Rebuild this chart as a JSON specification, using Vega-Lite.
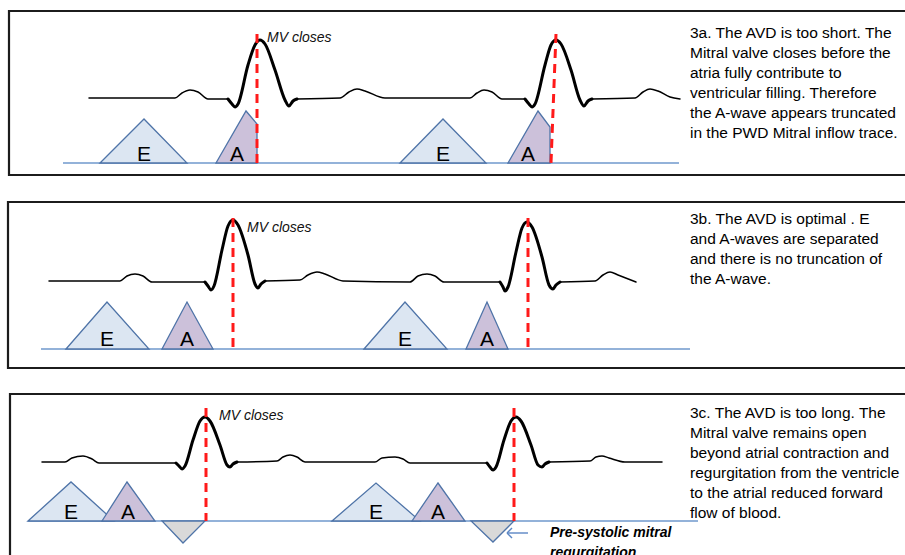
{
  "$schema": "https://vega.github.io/schema/vega-lite/v6.json",
  "width": 905,
  "height": 555,
  "padding": 0,
  "autosize": {"type": "fit", "contains": "padding"},
  "background": "white",
  "config": {"view": {"stroke": null}},
  "datasets": {
    "boxes": [
      {"panel": "3a", "x": 9, "x2": 910, "y": 11, "y2": 175},
      {"panel": "3b", "x": 8, "x2": 910, "y": 202, "y2": 368},
      {"panel": "3c", "x": 10, "x2": 910, "y": 394, "y2": 580}
    ],
    "baselines": [
      {"panel": "3a", "x": 63, "x2": 679, "y": 163},
      {"panel": "3b", "x": 41, "x2": 690, "y": 349},
      {"panel": "3c", "x": 28, "x2": 698, "y": 521}
    ],
    "mv": [
      {"panel": "3a", "x": 257, "x2": 257, "y": 34, "y2": 163},
      {"panel": "3a", "x": 556, "x2": 551, "y": 34, "y2": 163},
      {"panel": "3b", "x": 233, "x2": 233, "y": 218, "y2": 349},
      {"panel": "3b", "x": 528, "x2": 528, "y": 218, "y2": 349},
      {"panel": "3c", "x": 206, "x2": 206, "y": 408, "y2": 521},
      {"panel": "3c", "x": 514, "x2": 514, "y": 408, "y2": 521}
    ],
    "arrow": [
      {"x": 528, "x2": 507, "y": 533, "y2": 533},
      {"x": 507, "x2": 512, "y": 533, "y2": 528},
      {"x": 507, "x2": 512, "y": 533, "y2": 538}
    ],
    "waves": [
      {"id": "3a-E1", "kind": "E", "x": 100, "y": 163, "y2": 163},
      {"id": "3a-E1", "kind": "E", "x": 144, "y": 119, "y2": 163},
      {"id": "3a-E1", "kind": "E", "x": 187, "y": 163, "y2": 163},
      {"id": "3a-A1", "kind": "A", "x": 216, "y": 163, "y2": 163},
      {"id": "3a-A1", "kind": "A", "x": 246, "y": 111, "y2": 163},
      {"id": "3a-A1", "kind": "A", "x": 257, "y": 124, "y2": 163},
      {"id": "3a-E2", "kind": "E", "x": 400, "y": 163, "y2": 163},
      {"id": "3a-E2", "kind": "E", "x": 443, "y": 119, "y2": 163},
      {"id": "3a-E2", "kind": "E", "x": 486, "y": 163, "y2": 163},
      {"id": "3a-A2", "kind": "A", "x": 508, "y": 163, "y2": 163},
      {"id": "3a-A2", "kind": "A", "x": 538, "y": 111, "y2": 163},
      {"id": "3a-A2", "kind": "A", "x": 550, "y": 127, "y2": 163},
      {"id": "3b-E1", "kind": "E", "x": 66, "y": 349, "y2": 349},
      {"id": "3b-E1", "kind": "E", "x": 107, "y": 302, "y2": 349},
      {"id": "3b-E1", "kind": "E", "x": 149, "y": 349, "y2": 349},
      {"id": "3b-A1", "kind": "A", "x": 162, "y": 349, "y2": 349},
      {"id": "3b-A1", "kind": "A", "x": 187, "y": 302, "y2": 349},
      {"id": "3b-A1", "kind": "A", "x": 213, "y": 349, "y2": 349},
      {"id": "3b-E2", "kind": "E", "x": 364, "y": 349, "y2": 349},
      {"id": "3b-E2", "kind": "E", "x": 405, "y": 302, "y2": 349},
      {"id": "3b-E2", "kind": "E", "x": 447, "y": 349, "y2": 349},
      {"id": "3b-A2", "kind": "A", "x": 466, "y": 349, "y2": 349},
      {"id": "3b-A2", "kind": "A", "x": 487, "y": 302, "y2": 349},
      {"id": "3b-A2", "kind": "A", "x": 508, "y": 349, "y2": 349},
      {"id": "3c-E1", "kind": "E", "x": 28, "y": 521, "y2": 521},
      {"id": "3c-E1", "kind": "E", "x": 71, "y": 482, "y2": 521},
      {"id": "3c-E1", "kind": "E", "x": 114, "y": 521, "y2": 521},
      {"id": "3c-A1", "kind": "A", "x": 102, "y": 521, "y2": 521},
      {"id": "3c-A1", "kind": "A", "x": 127, "y": 482, "y2": 521},
      {"id": "3c-A1", "kind": "A", "x": 155, "y": 521, "y2": 521},
      {"id": "3c-R1", "kind": "R", "x": 162, "y": 521, "y2": 521},
      {"id": "3c-R1", "kind": "R", "x": 183, "y": 521, "y2": 543},
      {"id": "3c-R1", "kind": "R", "x": 205, "y": 521, "y2": 521},
      {"id": "3c-E2", "kind": "E", "x": 332, "y": 521, "y2": 521},
      {"id": "3c-E2", "kind": "E", "x": 376, "y": 483, "y2": 521},
      {"id": "3c-E2", "kind": "E", "x": 420, "y": 521, "y2": 521},
      {"id": "3c-A2", "kind": "A", "x": 412, "y": 521, "y2": 521},
      {"id": "3c-A2", "kind": "A", "x": 438, "y": 483, "y2": 521},
      {"id": "3c-A2", "kind": "A", "x": 465, "y": 521, "y2": 521},
      {"id": "3c-R2", "kind": "R", "x": 471, "y": 521, "y2": 521},
      {"id": "3c-R2", "kind": "R", "x": 493, "y": 521, "y2": 542},
      {"id": "3c-R2", "kind": "R", "x": 514, "y": 521, "y2": 521}
    ],
    "ecg": [
      {"seg": "a1", "part": "thin", "x": 89, "y": 98},
      {"seg": "a1", "part": "thin", "x": 175, "y": 98},
      {"seg": "a1", "part": "thin", "x": 182, "y": 93},
      {"seg": "a1", "part": "thin", "x": 190, "y": 90},
      {"seg": "a1", "part": "thin", "x": 198, "y": 92},
      {"seg": "a1", "part": "thin", "x": 208, "y": 99},
      {"seg": "a1", "part": "thin", "x": 228, "y": 99},
      {"seg": "a2", "part": "qrs", "x": 228, "y": 99},
      {"seg": "a2", "part": "qrs", "x": 232, "y": 104},
      {"seg": "a2", "part": "qrs", "x": 235, "y": 107},
      {"seg": "a2", "part": "qrs", "x": 238, "y": 104},
      {"seg": "a2", "part": "qrs", "x": 248, "y": 65},
      {"seg": "a2", "part": "qrs", "x": 255, "y": 45},
      {"seg": "a2", "part": "qrs", "x": 260, "y": 40},
      {"seg": "a2", "part": "qrs", "x": 265, "y": 44},
      {"seg": "a2", "part": "qrs", "x": 275, "y": 70},
      {"seg": "a2", "part": "qrs", "x": 285, "y": 100},
      {"seg": "a2", "part": "qrs", "x": 289, "y": 106},
      {"seg": "a2", "part": "qrs", "x": 293, "y": 101},
      {"seg": "a2", "part": "qrs", "x": 297, "y": 99},
      {"seg": "a3", "part": "thin", "x": 297, "y": 99},
      {"seg": "a3", "part": "thin", "x": 340, "y": 98},
      {"seg": "a3", "part": "thin", "x": 349, "y": 92},
      {"seg": "a3", "part": "thin", "x": 357, "y": 89},
      {"seg": "a3", "part": "thin", "x": 365, "y": 91},
      {"seg": "a3", "part": "thin", "x": 385, "y": 98},
      {"seg": "a3", "part": "thin", "x": 470, "y": 98},
      {"seg": "a3", "part": "thin", "x": 477, "y": 93},
      {"seg": "a3", "part": "thin", "x": 484, "y": 90},
      {"seg": "a3", "part": "thin", "x": 492, "y": 92},
      {"seg": "a3", "part": "thin", "x": 502, "y": 99},
      {"seg": "a3", "part": "thin", "x": 525, "y": 99},
      {"seg": "a4", "part": "qrs", "x": 525, "y": 99},
      {"seg": "a4", "part": "qrs", "x": 529, "y": 104},
      {"seg": "a4", "part": "qrs", "x": 532, "y": 107},
      {"seg": "a4", "part": "qrs", "x": 535, "y": 104},
      {"seg": "a4", "part": "qrs", "x": 545, "y": 65},
      {"seg": "a4", "part": "qrs", "x": 551, "y": 45},
      {"seg": "a4", "part": "qrs", "x": 556, "y": 40},
      {"seg": "a4", "part": "qrs", "x": 561, "y": 44},
      {"seg": "a4", "part": "qrs", "x": 571, "y": 70},
      {"seg": "a4", "part": "qrs", "x": 580, "y": 100},
      {"seg": "a4", "part": "qrs", "x": 584, "y": 106},
      {"seg": "a4", "part": "qrs", "x": 588, "y": 101},
      {"seg": "a4", "part": "qrs", "x": 592, "y": 99},
      {"seg": "a5", "part": "thin", "x": 592, "y": 99},
      {"seg": "a5", "part": "thin", "x": 635, "y": 98},
      {"seg": "a5", "part": "thin", "x": 643, "y": 92},
      {"seg": "a5", "part": "thin", "x": 650, "y": 89},
      {"seg": "a5", "part": "thin", "x": 658, "y": 91},
      {"seg": "a5", "part": "thin", "x": 670, "y": 97},
      {"seg": "a5", "part": "thin", "x": 680, "y": 99},

      {"seg": "b1", "part": "thin", "x": 49, "y": 281},
      {"seg": "b1", "part": "thin", "x": 120, "y": 281},
      {"seg": "b1", "part": "thin", "x": 127, "y": 276},
      {"seg": "b1", "part": "thin", "x": 135, "y": 274},
      {"seg": "b1", "part": "thin", "x": 143, "y": 276},
      {"seg": "b1", "part": "thin", "x": 152, "y": 282},
      {"seg": "b1", "part": "thin", "x": 205, "y": 282},
      {"seg": "b2", "part": "qrs", "x": 205, "y": 282},
      {"seg": "b2", "part": "qrs", "x": 208, "y": 286},
      {"seg": "b2", "part": "qrs", "x": 211, "y": 290},
      {"seg": "b2", "part": "qrs", "x": 214, "y": 286},
      {"seg": "b2", "part": "qrs", "x": 222, "y": 250},
      {"seg": "b2", "part": "qrs", "x": 228, "y": 226},
      {"seg": "b2", "part": "qrs", "x": 233, "y": 220},
      {"seg": "b2", "part": "qrs", "x": 238, "y": 225},
      {"seg": "b2", "part": "qrs", "x": 248, "y": 255},
      {"seg": "b2", "part": "qrs", "x": 255, "y": 284},
      {"seg": "b2", "part": "qrs", "x": 258, "y": 288},
      {"seg": "b2", "part": "qrs", "x": 261, "y": 284},
      {"seg": "b2", "part": "qrs", "x": 265, "y": 281},
      {"seg": "b3", "part": "thin", "x": 265, "y": 281},
      {"seg": "b3", "part": "thin", "x": 300, "y": 280},
      {"seg": "b3", "part": "thin", "x": 308, "y": 275},
      {"seg": "b3", "part": "thin", "x": 317, "y": 272},
      {"seg": "b3", "part": "thin", "x": 325, "y": 274},
      {"seg": "b3", "part": "thin", "x": 343, "y": 281},
      {"seg": "b3", "part": "thin", "x": 410, "y": 282},
      {"seg": "b3", "part": "thin", "x": 418, "y": 276},
      {"seg": "b3", "part": "thin", "x": 427, "y": 274},
      {"seg": "b3", "part": "thin", "x": 435, "y": 276},
      {"seg": "b3", "part": "thin", "x": 444, "y": 282},
      {"seg": "b3", "part": "thin", "x": 500, "y": 282},
      {"seg": "b4", "part": "qrs", "x": 500, "y": 282},
      {"seg": "b4", "part": "qrs", "x": 503, "y": 287},
      {"seg": "b4", "part": "qrs", "x": 505, "y": 291},
      {"seg": "b4", "part": "qrs", "x": 508, "y": 287},
      {"seg": "b4", "part": "qrs", "x": 516, "y": 252},
      {"seg": "b4", "part": "qrs", "x": 522, "y": 228},
      {"seg": "b4", "part": "qrs", "x": 527, "y": 222},
      {"seg": "b4", "part": "qrs", "x": 532, "y": 227},
      {"seg": "b4", "part": "qrs", "x": 542, "y": 257},
      {"seg": "b4", "part": "qrs", "x": 549, "y": 285},
      {"seg": "b4", "part": "qrs", "x": 553, "y": 289},
      {"seg": "b4", "part": "qrs", "x": 556, "y": 285},
      {"seg": "b4", "part": "qrs", "x": 560, "y": 282},
      {"seg": "b5", "part": "thin", "x": 560, "y": 282},
      {"seg": "b5", "part": "thin", "x": 595, "y": 281},
      {"seg": "b5", "part": "thin", "x": 603, "y": 275},
      {"seg": "b5", "part": "thin", "x": 610, "y": 272},
      {"seg": "b5", "part": "thin", "x": 618, "y": 275},
      {"seg": "b5", "part": "thin", "x": 636, "y": 282},

      {"seg": "c1", "part": "thin", "x": 42, "y": 462},
      {"seg": "c1", "part": "thin", "x": 65, "y": 462},
      {"seg": "c1", "part": "thin", "x": 72, "y": 458},
      {"seg": "c1", "part": "thin", "x": 83, "y": 456},
      {"seg": "c1", "part": "thin", "x": 92, "y": 459},
      {"seg": "c1", "part": "thin", "x": 99, "y": 463},
      {"seg": "c1", "part": "thin", "x": 176, "y": 463},
      {"seg": "c2", "part": "qrs", "x": 176, "y": 463},
      {"seg": "c2", "part": "qrs", "x": 179, "y": 466},
      {"seg": "c2", "part": "qrs", "x": 182, "y": 469},
      {"seg": "c2", "part": "qrs", "x": 185, "y": 466},
      {"seg": "c2", "part": "qrs", "x": 193, "y": 440},
      {"seg": "c2", "part": "qrs", "x": 200, "y": 421},
      {"seg": "c2", "part": "qrs", "x": 205, "y": 417},
      {"seg": "c2", "part": "qrs", "x": 210, "y": 421},
      {"seg": "c2", "part": "qrs", "x": 220, "y": 445},
      {"seg": "c2", "part": "qrs", "x": 227, "y": 465},
      {"seg": "c2", "part": "qrs", "x": 230, "y": 467},
      {"seg": "c2", "part": "qrs", "x": 233, "y": 464},
      {"seg": "c2", "part": "qrs", "x": 237, "y": 462},
      {"seg": "c3", "part": "thin", "x": 237, "y": 462},
      {"seg": "c3", "part": "thin", "x": 277, "y": 461},
      {"seg": "c3", "part": "thin", "x": 283, "y": 457},
      {"seg": "c3", "part": "thin", "x": 290, "y": 455},
      {"seg": "c3", "part": "thin", "x": 297, "y": 457},
      {"seg": "c3", "part": "thin", "x": 305, "y": 462},
      {"seg": "c3", "part": "thin", "x": 375, "y": 462},
      {"seg": "c3", "part": "thin", "x": 382, "y": 458},
      {"seg": "c3", "part": "thin", "x": 395, "y": 457},
      {"seg": "c3", "part": "thin", "x": 403, "y": 459},
      {"seg": "c3", "part": "thin", "x": 410, "y": 463},
      {"seg": "c3", "part": "thin", "x": 487, "y": 463},
      {"seg": "c4", "part": "qrs", "x": 487, "y": 463},
      {"seg": "c4", "part": "qrs", "x": 490, "y": 467},
      {"seg": "c4", "part": "qrs", "x": 493, "y": 470},
      {"seg": "c4", "part": "qrs", "x": 496, "y": 467},
      {"seg": "c4", "part": "qrs", "x": 504, "y": 440},
      {"seg": "c4", "part": "qrs", "x": 511, "y": 421},
      {"seg": "c4", "part": "qrs", "x": 516, "y": 417},
      {"seg": "c4", "part": "qrs", "x": 521, "y": 421},
      {"seg": "c4", "part": "qrs", "x": 531, "y": 445},
      {"seg": "c4", "part": "qrs", "x": 538, "y": 465},
      {"seg": "c4", "part": "qrs", "x": 542, "y": 467},
      {"seg": "c4", "part": "qrs", "x": 545, "y": 464},
      {"seg": "c4", "part": "qrs", "x": 549, "y": 462},
      {"seg": "c5", "part": "thin", "x": 549, "y": 462},
      {"seg": "c5", "part": "thin", "x": 590, "y": 461},
      {"seg": "c5", "part": "thin", "x": 596, "y": 457},
      {"seg": "c5", "part": "thin", "x": 602, "y": 456},
      {"seg": "c5", "part": "thin", "x": 609, "y": 458},
      {"seg": "c5", "part": "thin", "x": 625, "y": 462},
      {"seg": "c5", "part": "thin", "x": 662, "y": 462}
    ],
    "labels": [
      {"t": "E", "x": 144, "y": 161},
      {"t": "A", "x": 237, "y": 161},
      {"t": "E", "x": 443, "y": 161},
      {"t": "A", "x": 528, "y": 161},
      {"t": "E", "x": 107, "y": 346},
      {"t": "A", "x": 187, "y": 346},
      {"t": "E", "x": 405, "y": 346},
      {"t": "A", "x": 487, "y": 346},
      {"t": "E", "x": 71, "y": 519},
      {"t": "A", "x": 128, "y": 519},
      {"t": "E", "x": 376, "y": 519},
      {"t": "A", "x": 438, "y": 519}
    ],
    "mvtext": [
      {"t": "MV closes", "x": 267, "y": 42},
      {"t": "MV closes", "x": 247, "y": 232},
      {"t": "MV closes", "x": 219, "y": 420}
    ],
    "body": [
      {"t": "3a. The AVD is too short. The", "x": 690, "y": 38},
      {"t": "Mitral valve closes before the", "x": 690, "y": 58},
      {"t": "atria fully contribute to", "x": 690, "y": 78},
      {"t": "ventricular filling. Therefore", "x": 690, "y": 98},
      {"t": "the A-wave appears truncated", "x": 690, "y": 118},
      {"t": "in the PWD Mitral inflow trace.", "x": 690, "y": 138},
      {"t": "3b. The AVD is optimal . E", "x": 690, "y": 224},
      {"t": "and A-waves are separated", "x": 690, "y": 244},
      {"t": "and there is no truncation of", "x": 690, "y": 264},
      {"t": "the A-wave.", "x": 690, "y": 284},
      {"t": "3c. The AVD is too long. The", "x": 690, "y": 418},
      {"t": "Mitral valve remains open", "x": 690, "y": 438},
      {"t": "beyond atrial contraction and", "x": 690, "y": 458},
      {"t": "regurgitation from the ventricle", "x": 690, "y": 478},
      {"t": "to the atrial reduced forward", "x": 690, "y": 498},
      {"t": "flow of blood.", "x": 690, "y": 518}
    ],
    "regtext": [
      {"t": "Pre-systolic mitral", "x": 550, "y": 537},
      {"t": "regurgitation", "x": 550, "y": 557}
    ]
  },
  "encoding": {
    "x": {"field": "x", "type": "quantitative", "scale": {"domain": [0, 905], "nice": false, "zero": false}, "axis": null},
    "y": {"field": "y", "type": "quantitative", "scale": {"domain": [0, 555], "reverse": true, "nice": false, "zero": false}, "axis": null}
  },
  "layer": [
    {
      "data": {"name": "boxes"},
      "mark": {"type": "rect", "fill": null, "fillOpacity": 0, "stroke": "#1c1c1c", "strokeWidth": 2.2, "clip": true},
      "encoding": {"x2": {"field": "x2"}, "y2": {"field": "y2"}}
    },
    {
      "data": {"name": "baselines"},
      "mark": {"type": "rule", "color": "#6f98cc", "strokeWidth": 1.6},
      "encoding": {"x2": {"field": "x2"}}
    },
    {
      "data": {"name": "waves"},
      "transform": [{"filter": "datum.kind === 'E'"}],
      "mark": {"type": "area", "fill": "#dce6f2", "stroke": "#4f74a8", "strokeWidth": 1.3, "interpolate": "linear"},
      "encoding": {"y": {"field": "y", "type": "quantitative", "stack": null}, "y2": {"field": "y2"}, "detail": {"field": "id"}}
    },
    {
      "data": {"name": "waves"},
      "transform": [{"filter": "datum.kind === 'A'"}],
      "mark": {"type": "area", "fill": "#ccc1da", "stroke": "#4f74a8", "strokeWidth": 1.3, "interpolate": "linear"},
      "encoding": {"y": {"field": "y", "type": "quantitative", "stack": null}, "y2": {"field": "y2"}, "detail": {"field": "id"}}
    },
    {
      "data": {"name": "waves"},
      "transform": [{"filter": "datum.kind === 'R'"}],
      "mark": {"type": "area", "fill": "#d9d9d9", "stroke": "#4f74a8", "strokeWidth": 1.3, "interpolate": "linear"},
      "encoding": {"y": {"field": "y", "type": "quantitative", "stack": null}, "y2": {"field": "y2"}, "detail": {"field": "id"}}
    },
    {
      "data": {"name": "ecg"},
      "mark": {"type": "line", "color": "#000000", "interpolate": "monotone", "strokeCap": "round", "strokeJoin": "round"},
      "encoding": {
        "detail": {"field": "seg"},
        "strokeWidth": {"field": "part", "type": "nominal", "scale": {"domain": ["thin", "qrs"], "range": [1.5, 3]}, "legend": null}
      }
    },
    {
      "data": {"name": "mv"},
      "mark": {"type": "rule", "color": "#ff1a1a", "strokeWidth": 3, "strokeDash": [9, 6]},
      "encoding": {"x2": {"field": "x2"}, "y2": {"field": "y2"}}
    },
    {
      "data": {"name": "arrow"},
      "mark": {"type": "rule", "color": "#5b86c4", "strokeWidth": 1.4},
      "encoding": {"x2": {"field": "x2"}, "y2": {"field": "y2"}}
    },
    {
      "data": {"name": "labels"},
      "mark": {"type": "text", "font": "Liberation Sans", "fontSize": 21, "align": "center", "baseline": "alphabetic", "color": "#000000"},
      "encoding": {"text": {"field": "t"}}
    },
    {
      "data": {"name": "mvtext"},
      "mark": {"type": "text", "font": "Liberation Sans", "fontSize": 14, "fontStyle": "italic", "align": "left", "baseline": "alphabetic", "color": "#111111"},
      "encoding": {"text": {"field": "t"}}
    },
    {
      "data": {"name": "body"},
      "mark": {"type": "text", "font": "Liberation Sans", "fontSize": 15.5, "align": "left", "baseline": "alphabetic", "color": "#000000"},
      "encoding": {"text": {"field": "t"}}
    },
    {
      "data": {"name": "regtext"},
      "mark": {"type": "text", "font": "Liberation Sans", "fontSize": 14, "fontStyle": "italic", "fontWeight": "bold", "align": "left", "baseline": "alphabetic", "color": "#000000", "clip": true},
      "encoding": {"text": {"field": "t"}}
    }
  ]
}
